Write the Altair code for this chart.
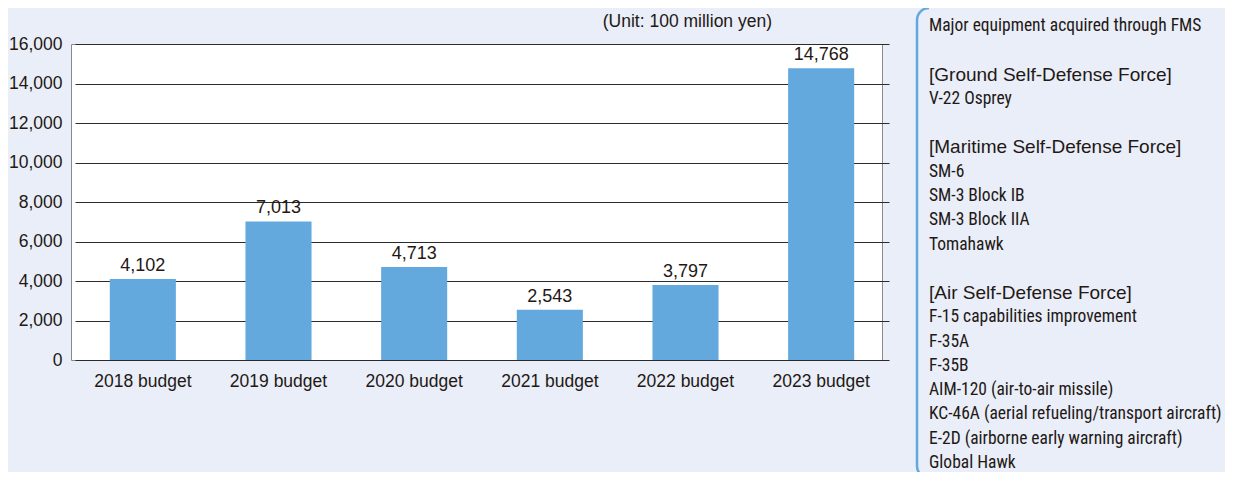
import altair as alt
import pandas as pd

# ---- data ----
years = ["2018 budget", "2019 budget", "2020 budget", "2021 budget", "2022 budget", "2023 budget"]
values = [4102, 7013, 4713, 2543, 3797, 14768]
value_labels = ["4,102", "7,013", "4,713", "2,543", "3,797", "14,768"]
y_ticks = [0, 2000, 4000, 6000, 8000, 10000, 12000, 14000, 16000]
unit_text = "(Unit: 100 million yen)"

side_text = [
    "Major equipment acquired through FMS",
    "",
    "[Ground Self-Defense Force]",
    "V-22 Osprey",
    "",
    "[Maritime Self-Defense Force]",
    "SM-6",
    "SM-3 Block IB",
    "SM-3 Block IIA",
    "Tomahawk",
    "",
    "[Air Self-Defense Force]",
    "F-15 capabilities improvement",
    "F-35A",
    "F-35B",
    "AIM-120 (air-to-air missile)",
    "KC-46A (aerial refueling/transport aircraft)",
    "E-2D (airborne early warning aircraft)",
    "Global Hawk",
]
side_kind = ["item", "blank", "header", "item", "blank", "header", "item", "item", "item", "item",
             "blank", "header", "item", "item", "item", "item", "item", "item", "item"]

TEXT = "#231815"
BAR = "#63A9DD"
BG = "#E9EEF8"
FONT = "Liberation Sans"
NARROW = "Liberation Sans Narrow, Roboto Condensed, Roboto, sans-serif"

bars_df = pd.DataFrame({"year": years, "value": values, "label": value_labels})
side_df = pd.DataFrame({"line": list(range(len(side_text))), "text": side_text, "kind": side_kind})

xscale = alt.Scale(domain=years, range=[4, 818], paddingInner=0.513, paddingOuter=0.2565)
yscale = alt.Scale(domain=[0, 16000])
xaxis = alt.Axis(title=None, labelAngle=0, labelPadding=12, grid=False, ticks=False, domain=False)

base = alt.Chart(bars_df)

bars = base.mark_bar(color=BAR).encode(
    x=alt.X("year:N", sort=years, scale=xscale, axis=xaxis),
    y=alt.Y("value:Q", scale=yscale,
            axis=alt.Axis(title=None, values=y_ticks, format=",d", labelPadding=9, ticks=False,
                          domain=False, grid=True, gridColor="#2b2b2b", gridWidth=1)),
)

labels = base.mark_text(baseline="bottom", dy=-4, fontSize=18, font=FONT, color=TEXT).encode(
    x=alt.X("year:N", sort=years, scale=xscale, axis=xaxis),
    y=alt.Y("value:Q", scale=yscale, axis=None),
    text="label:N",
)

unit = alt.Chart(pd.DataFrame({"t": [unit_text]})).mark_text(
    align="right", baseline="alphabetic", fontSize=17.5, font=FONT, color=TEXT
).encode(x=alt.value(701), y=alt.value(-17), text="t:N")

side_scale = alt.Scale(domain=[0, 18], range=[-18, 419])

side_items = alt.Chart(side_df).transform_filter(alt.datum.kind == "item").mark_text(
    align="left", baseline="middle", fontSize=17.5, font=NARROW, color=TEXT
).encode(
    x=alt.value(858),
    y=alt.Y("line:Q", scale=side_scale, axis=None),
    text="text:N",
)

side_headers = alt.Chart(side_df).transform_filter(alt.datum.kind == "header").mark_text(
    align="left", baseline="middle", fontSize=19, font=FONT, color=TEXT
).encode(
    x=alt.value(858),
    y=alt.Y("line:Q", scale=side_scale, axis=None),
    text="text:N",
)

one = pd.DataFrame({"k": [0]})
bracket = alt.Chart(one).mark_rule(color=BAR, strokeWidth=2.5).encode(
    x=alt.value(846), y=alt.value(-24), y2=alt.value(422)
)
arc_top = alt.Chart(one).mark_arc(
    color=BAR, innerRadius=10.75, outerRadius=13.25, theta=4.7124, theta2=6.2832
).encode(x=alt.value(858), y=alt.value(-24))
arc_bot = alt.Chart(one).mark_arc(
    color=BAR, innerRadius=10.75, outerRadius=13.25, theta=3.1416, theta2=4.7124
).encode(x=alt.value(858), y=alt.value(422))

chart = alt.layer(
    bars, labels, unit, side_items, side_headers, bracket, arc_top, arc_bot
).resolve_scale(y="independent").properties(
    width=811,
    height=316,
    padding={"left": 63, "top": 36, "right": 343, "bottom": 112},
    autosize=alt.AutoSizeParams(type="none"),
    background=BG,
).configure_view(
    stroke="#8a8a8a", strokeWidth=1, fill="white"
).configure_axis(
    labelFont=FONT, labelFontSize=17.5, labelColor=TEXT
)

chart.save("out.html", embed_options={"renderer": "svg", "actions": False})
